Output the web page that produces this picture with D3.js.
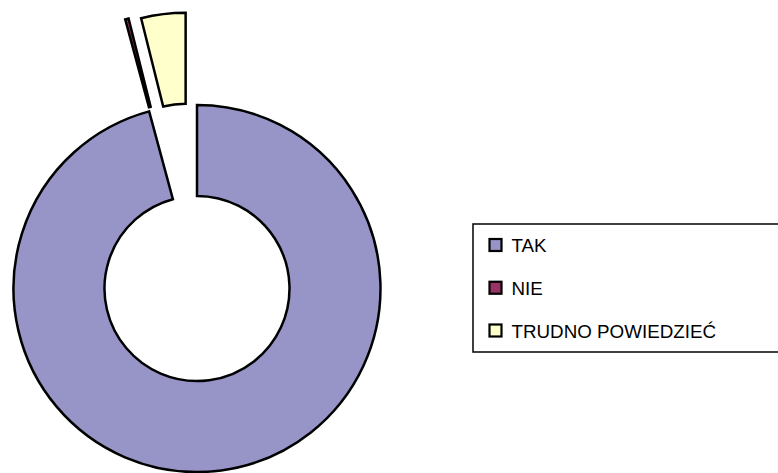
<!DOCTYPE html>
<html>
<head>
<meta charset="utf-8">
<script src="https://cdn.jsdelivr.net/npm/d3@7"></script>
<style>
  body { margin: 0; background: white; }
</style>
</head>
<body>
<div id="container"></div>
<script>
let w = 778;
let h = 473;

// DATA
let categories = ["TAK", "NIE", "TRUDNO POWIEDZIEĆ"];
let values = [95.8, 0.3, 3.9];
let colors = ["#9795c7", "#993366", "#ffffcc"];
let explode = [0, 95, 93];

let cx = 197;
let cy = 288.5;
let outerR = 183.5;
let innerR = 92.5;

let viz = d3.select("#container").append("svg")
    .attr("width", w)
    .attr("height", h)
    .style("display", "block")
    .style("background-color", "white")
;

let pieData = categories.map(function(d, i){
  return {name: d, value: values[i], color: colors[i], explode: explode[i]};
});

let pie = d3.pie()
    .sort(null)
    .value(function(d){ return d.value; })
;

let arcMaker = d3.arc()
    .innerRadius(innerR)
    .outerRadius(outerR)
;

viz.append("g")
    .attr("transform", "translate(" + cx + "," + cy + ")")
  .selectAll(".slice").data(pie(pieData)).enter()
  .append("path")
    .attr("class", "slice")
    .attr("d", arcMaker)
    .attr("transform", function(d){
      let mid = (d.startAngle + d.endAngle) / 2;
      let dx = Math.sin(mid) * d.data.explode;
      let dy = -Math.cos(mid) * d.data.explode;
      return "translate(" + dx + "," + dy + ")";
    })
    .attr("fill", function(d){ return d.data.color; })
    .attr("stroke", "black")
    .attr("stroke-width", 2.5)
    .attr("stroke-linejoin", "miter")
;

// LEGEND
let legend = viz.append("g")
    .attr("transform", "translate(473,224)");

legend.append("rect")
    .attr("x", 0)
    .attr("y", 0)
    .attr("width", 320)
    .attr("height", 128)
    .attr("fill", "white")
    .attr("stroke", "#111")
    .attr("stroke-width", 1.6)
;

let rowScale = d3.scalePoint()
    .domain(categories)
    .range([21.5, 107]);

let items = legend.selectAll(".item").data(pieData).enter()
  .append("g")
    .attr("class", "item")
    .attr("transform", function(d){ return "translate(0," + rowScale(d.name) + ")"; })
;

items.append("rect")
    .attr("x", 16.5)
    .attr("y", -6.5)
    .attr("width", 12)
    .attr("height", 12)
    .attr("fill", function(d){ return d.color; })
    .attr("stroke", "black")
    .attr("stroke-width", 2.2)
;

items.append("text")
    .attr("x", 38.5)
    .attr("y", 6.5)
    .attr("font-family", "Liberation Sans, Arial, sans-serif")
    .attr("font-size", 18.8)
    .attr("fill", "black")
    .text(function(d){ return d.name; })
;
</script>
</body>
</html>
